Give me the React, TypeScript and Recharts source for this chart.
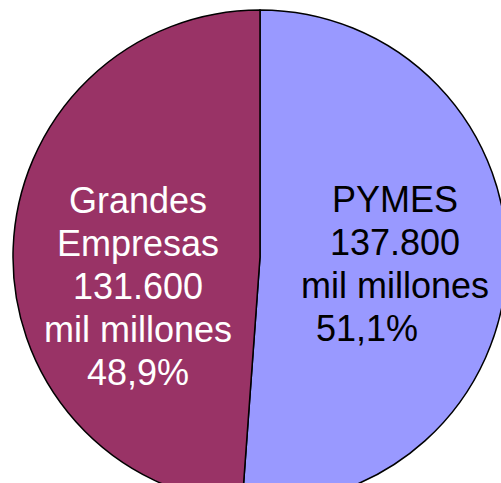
import { PieChart, Pie, Cell } from 'recharts'

const names = ['PYMES', 'Grandes Empresas']
const values = [137800, 131600]
const labelLines = [
  ['PYMES', '137.800', 'mil millones', '51,1%'],
  ['Grandes', 'Empresas', '131.600', 'mil millones', '48,9%'],
]
const colors = ['#9999FF', '#993366']
const textColors = ['#000000', '#ffffff']

const data = names.map((name, i) => ({ name, value: values[i] }))

// where each label block sits, relative to the pie centre (first baseline)
const labelPos = [
  { x: 135, y: -45, shiftLast: -28 },
  { x: -122, y: -44, shiftLast: 0 },
]
const LINE = 43

// eslint-disable-next-line @typescript-eslint/no-explicit-any
function renderLabel(props: any) {
  const { cx, cy, index } = props
  const pos = labelPos[index]
  const lines = labelLines[index]
  return (
    <text
      x={cx + pos.x}
      y={cy + pos.y}
      textAnchor="middle"
      fill={textColors[index]}
      fontSize={36}
      fontFamily="Liberation Sans, Arial, sans-serif"
    >
      {lines.map((l, i) => (
        <tspan
          key={i}
          x={cx + pos.x + (i === lines.length - 1 ? pos.shiftLast : 0)}
          y={cy + pos.y + i * LINE}
        >
          {l}
        </tspan>
      ))}
    </text>
  )
}

export default function App() {
  return (
    <div style={{ position: 'absolute', left: 0, top: 0, width: 501, height: 483, background: '#fff', overflow: 'hidden' }}>
      <PieChart width={501} height={483} margin={{ top: 0, right: 0, bottom: 0, left: 0 }} style={{ overflow: 'hidden' }}>
        <Pie
          data={data}
          dataKey="value"
          cx={260}
          cy={257}
          outerRadius={247}
          startAngle={90}
          endAngle={-270}
          stroke="#000"
          strokeWidth={1.5}
          label={renderLabel}
          labelLine={false}
          isAnimationActive={false}
        >
          {data.map((d, i) => (
            <Cell key={d.name} fill={colors[i]} />
          ))}
        </Pie>
      </PieChart>
    </div>
  )
}
